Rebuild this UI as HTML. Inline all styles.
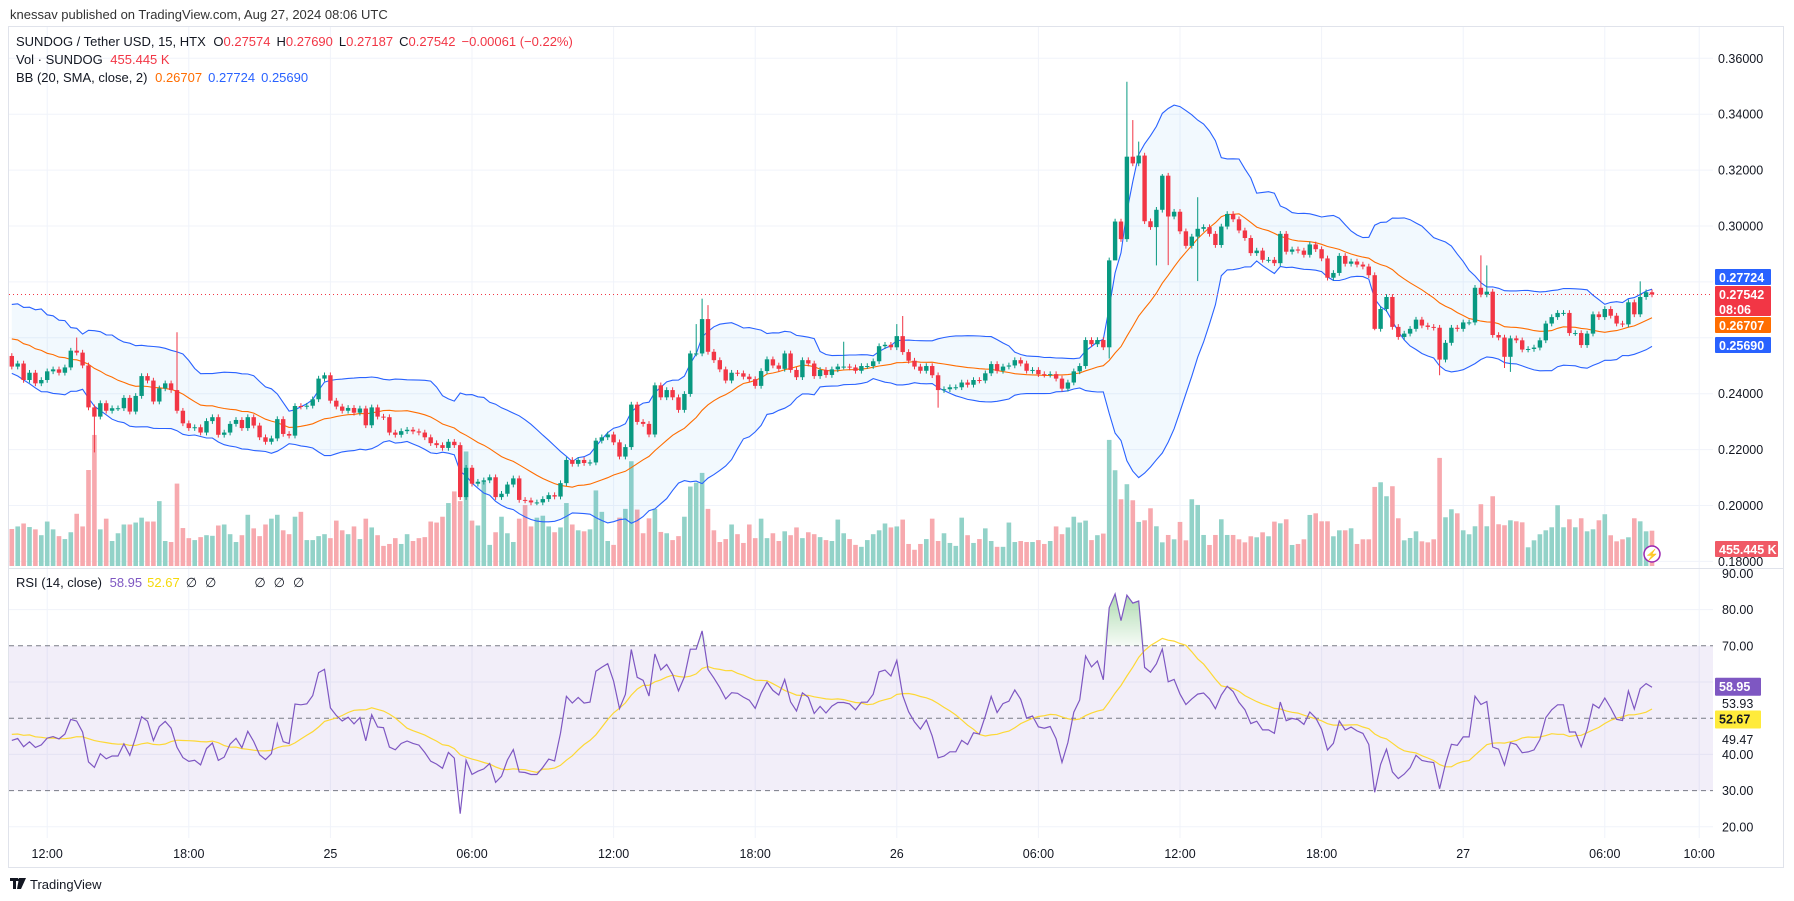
<!DOCTYPE html>
<html><head><meta charset="utf-8"><style>
html,body{margin:0;padding:0;background:#fff;}
svg{display:block;font-family:"Liberation Sans",Arial,sans-serif;}
</style></head><body>
<svg id="chart" width="1794" height="901" viewBox="0 0 1794 901" xmlns="http://www.w3.org/2000/svg">
<defs>
<clipPath id="pclip"><rect x="9" y="27" width="1704" height="540"/></clipPath>
<linearGradient id="obg" x1="0" y1="0" x2="0" y2="1"><stop offset="0" stop-color="#4caf50" stop-opacity="0.45"/><stop offset="1" stop-color="#4caf50" stop-opacity="0.05"/></linearGradient>
</defs>
<text x="10" y="19" font-size="13" fill="#333">knessav published on TradingView.com, Aug 27, 2024 08:06 UTC</text>
<rect x="8.5" y="26.5" width="1775" height="841" fill="none" stroke="#e0e3eb"/>
<g id="grid"></g>
<g id="rsiPane"></g>
<g id="pricePane" clip-path="url(#pclip)"></g>
<line x1="9" y1="568.5" x2="1783" y2="568.5" stroke="#e0e3eb"/>
<g id="axes"></g>
<g font-size="13">
<text x="16" y="46" fill="#131722">SUNDOG / Tether USD, 15, HTX <tspan dx="4">O</tspan><tspan fill="#f23645">0.27574</tspan><tspan dx="6">H</tspan><tspan fill="#f23645">0.27690</tspan><tspan dx="6">L</tspan><tspan fill="#f23645">0.27187</tspan><tspan dx="6">C</tspan><tspan fill="#f23645">0.27542</tspan><tspan dx="6" fill="#f23645">−0.00061 (−0.22%)</tspan></text>
<text x="16" y="64" fill="#131722">Vol · SUNDOG <tspan dx="4" fill="#f23645">455.445 K</tspan></text>
<text x="16" y="82" fill="#131722">BB (20, SMA, close, 2) <tspan dx="4" fill="#ff6d00">0.26707</tspan><tspan dx="6" fill="#2962ff">0.27724</tspan><tspan dx="6" fill="#2962ff">0.25690</tspan></text>
<text x="16" y="587" fill="#131722">RSI (14, close) <tspan dx="4" fill="#7e57c2">58.95</tspan><tspan dx="5" fill="#f5d90a">52.67</tspan><tspan dx="6">∅</tspan><tspan dx="8">∅</tspan><tspan dx="38">∅</tspan><tspan dx="8">∅</tspan><tspan dx="8">∅</tspan></text>
</g>
<g>
<rect x="10" y="878" width="8" height="3" fill="#131722"/><rect x="13" y="878" width="3" height="11" fill="#131722"/>
<polygon points="19,878 26,878 21,889 17,889" fill="#131722"/><circle cx="19.5" cy="880" r="1.6" fill="#131722"/>
<text x="30" y="889" font-size="13" fill="#131722">TradingView</text>
</g>
<g><circle cx="1652" cy="554" r="8" fill="#fff" stroke="#9c27b0" stroke-width="1.5"/><text x="1652" y="558.5" font-size="11" text-anchor="middle" fill="#9c27b0">⚡</text></g>
</svg>
<script>
// ---------- DATA ----------
const preCloses = [0.2700,0.2580,0.2720,0.2600,0.2680,0.2560,0.2690,0.2580,0.2650,0.2540,0.2680,0.2570,0.2640,0.2530,0.2620,0.2560,0.2600,0.2510,0.2580,0.2535];
const firstOpen = 0.2535;
const closesA = [0.2497,0.2508,0.2449,0.2475,0.2437,0.2449,0.2480,0.2487,0.2475,0.2494,
0.2554,0.2547,0.2501,0.2351,0.2318,0.2366,0.2339,0.2348,0.2348,0.2385,
0.2336,0.2392,0.2463,0.2447,0.2372,0.2419,0.2437,0.2413,0.2339,0.2294,
0.2277,0.2280,0.2261,0.2302,0.2316,0.2253,0.2261,0.2292,0.2306,0.2277,
0.2316,0.2286,0.2244,0.2228,0.2240,0.2309,0.2256,0.2250,0.2356,0.2354,
0.2357,0.2380,0.2454,0.2466,0.2375,0.2354,0.2339,0.2349,0.2332,0.2347,
0.2287,0.2351,0.2318,0.2316,0.2261,0.2253,0.2266,0.2271,0.2265,0.2261,
0.2244,0.2223,0.2216,0.2206,0.2228,0.2216,0.2030,0.2135,0.2078,0.2085,
0.2090,0.2101,0.2030,0.2042,0.2075,0.2097,0.2020,0.2018,0.2011,0.2011,
0.2023,0.2037,0.2032,0.2080,0.2163,0.2149,0.2163];
const closesB = [0.2152,0.2154,0.2232,0.2244,0.2254,0.2226,0.2175,0.2209,0.2361,0.2299,
0.2292,0.2254,0.2430,0.2387,0.2413,0.2387,0.2342,0.2399,0.2544,0.2544,
0.2667,0.2550,0.2520,0.2487,0.2447,0.2475,0.2473,0.2461,0.2452,0.2428,
0.2481,0.2523,0.2501,0.2489,0.2544,0.2485,0.2459,0.2520,0.2508,0.2463,
0.2485,0.2467,0.2487,0.2497,0.2497,0.2494,0.2482,0.2499,0.2499,0.2516,
0.2570,0.2575,0.2566,0.2606,0.2549,0.2518,0.2497,0.2482,0.2499,0.2466,
0.2413,0.2416,0.2423,0.2423,0.2440,0.2432,0.2449,0.2447,0.2473,0.2506,
0.2482,0.2497,0.2501,0.2520,0.2508,0.2482,0.2485,0.2470,0.2468,0.2470,
0.2454,0.2418,0.2440,0.2480,0.2499,0.2592,0.2577,0.2592,0.2566];
const closesC = [0.2877,0.3016,0.2953,0.3248,0.3224,0.3252,0.3017,0.2996,0.3058,0.3180,
0.3034,0.3051,0.2981,0.2929,0.2962,0.2990,0.2996,0.2972,0.2932,0.2998,
0.3043,0.3024,0.2984,0.2957,0.2903,0.2912,0.2879,0.2879,0.2867,0.2972,
0.2908,0.2916,0.2912,0.2897,0.2934,0.2917,0.2884,0.2815,0.2832,0.2893,
0.2865,0.2873,0.2862,0.2855,0.2824,0.2632,0.2703,0.2746,0.2639,0.2603,
0.2615,0.2632,0.2665,0.2644,0.2639,0.2636,0.2522,0.2582,0.2636,0.2632,
0.2655,0.2655,0.2779,0.2755,0.2765,0.2610,0.2601,0.2532,0.2598,0.2591,
0.2558,0.2560,0.2565,0.2591,0.2651,0.2674,0.2689,0.2689,0.2617,0.2617,
0.2574,0.2615,0.2684,0.2674,0.2703,0.2679,0.2651,0.2648,0.2727,0.2684,
0.2746,0.2763,0.2755];
const closes = closesA.concat(closesB, closesC);
const volumesK = [477,510,548,502,472,397,573,472,385,347,435,673,510,1237,1689,472,610,322,422,535,
535,560,623,573,573,836,322,309,1062,489,359,334,372,397,389,522,535,410,309,397,
660,485,385,535,610,660,460,410,635,698,334,334,385,410,359,585,460,410,510,347,
610,497,397,259,284,359,284,410,322,359,372,573,560,635,811,961,836,1476,585,522,
1087,272,435,635,422,309,610,786,510,623,648,510,435,497,811,535,460,
447,472,974,698,322,272,623,736,1350,727,422,614,736,439,422,334,385,635,1024,1074,
1200,736,460,309,347,535,410,297,535,359,610,359,422,322,447,397,497,359,435,410,
372,334,322,598,422,347,272,247,334,410,460,548,497,510,598,284,209,284,347,610,
322,422,297,259,623,397,297,347,485,322,247,247,560,309,322,309,309,334,284,322,
510,410,497,635,560,585,334,397,418,
1625,1234,860,1054,847,568,589,744,512,305,400,344,568,331,860,787,400,271,400,602,
400,400,344,305,383,370,434,383,572,550,602,271,284,344,658,679,576,576,383,460,
460,486,284,344,344,1019,1079,899,1028,615,331,361,447,318,305,344,1393,628,731,679,
460,409,512,796,512,899,538,525,589,576,563,241,331,409,460,499,783,499,602,499,
615,447,473,589,667,396,318,344,370,615,576,447,455];
const wickIdx  = [11,14,28,116,117,118,141,150,151,157,186,187,189,190,191,194,195,196,201,231,242,249,250,253,254,276];
const wickHigh = [0.2601,null,0.2620,0.2649,0.2740,0.2717,0.2586,0.2649,0.2678,null,null,null,0.3516,0.3379,0.3302,null,0.3186,null,0.3103,null,null,0.2895,0.2859,null,null,0.2802];
const wickLow  = [null,0.2190,null,null,null,null,null,null,null,0.2350,0.2526,0.2883,null,null,null,0.2859,null,0.2860,0.2803,0.2627,0.2466,null,null,0.2492,0.2478,null];
const timeLabels = ["12:00","18:00","25","06:00","12:00","18:00","26","06:00","12:00","18:00","27","06:00","10:00"];
const timeIdx = [6,30,54,78,102,126,150,174,198,222,246,270,286];
const priceTicks = [0.36,0.34,0.32,0.30,0.28,0.26,0.24,0.22,0.20,0.18];
const priceTickText = ["0.36000","0.34000","0.32000","0.30000","","","0.24000","0.22000","0.20000","0.18000"];
const rsiGrid = [80,60,40,20];
const rsiTicks = [90,80,70,40,30,20];

// ---------- SCALES ----------
const X0 = 11.8, DX = 5.9;
const px = i => X0 + i*DX;
const py = p => 58.3 + (0.36 - p)*2795;
const ry = v => 573.4 + (90 - v)*3.62;
const vy = k => 566 - k*0.0776;
const NS = "http://www.w3.org/2000/svg";
function mk(tag, attrs, parent){ const e=document.createElementNS(NS,tag); for(const k in attrs) e.setAttribute(k,attrs[k]); parent.appendChild(e); return e; }

// ---------- DERIVED ----------
const N = closes.length;
const opens = closes.map((c,i)=> i===0 ? firstOpen : closes[i-1]);
const highs = closes.map((c,i)=> Math.max(c,opens[i]) + 0.0010);
const lows  = closes.map((c,i)=> Math.min(c,opens[i]) - 0.0010);
wickIdx.forEach((idx,k)=>{ if(wickHigh[k]!==null) highs[idx]=wickHigh[k]; if(wickLow[k]!==null) lows[idx]=wickLow[k]; });
const all = preCloses.concat(closes);
const P = preCloses.length;
const bbMid=[], bbUp=[], bbLo=[];
for(let i=0;i<N;i++){ const j=i+P; const w=all.slice(j-19,j+1); const m=w.reduce((a,b)=>a+b,0)/w.length; const sd=Math.sqrt(w.reduce((a,b)=>a+(b-m)*(b-m),0)/w.length); bbMid.push(m); bbUp.push(m+2*sd); bbLo.push(m-2*sd); }
const rsiAll=[]; let ag=0, al=0;
for(let j=1;j<all.length;j++){ const d=all[j]-all[j-1]; const g=Math.max(d,0), l=Math.max(-d,0);
  if(j<=14){ ag+=g/14; al+=l/14; } else { ag=(ag*13+g)/14; al=(al*13+l)/14; }
  rsiAll[j] = al===0?100:100-100/(1+ag/al); }
const rsi = closes.map((c,i)=> rsiAll[i+P]);
const rsiMa = rsi.map((v,i)=>{ const j=i+P; const w=rsiAll.slice(Math.max(1,j-13),j+1); return w.reduce((a,b)=>a+b,0)/w.length; });

// ---------- GRID ----------
const grid = document.getElementById('grid');
timeIdx.forEach((t,k)=>{ const l=mk('line',{x1:px(t),x2:px(t),y1:27,y2:838,stroke:'#f0f3fa'},grid);
  
   });
priceTicks.forEach(p=>{ const l=mk('line',{x1:9,x2:1713,y1:py(p),y2:py(p),stroke:'#f0f3fa'},grid);
  
   });
rsiGrid.forEach(v=>{ const l=mk('line',{x1:9,x2:1713,y1:ry(v),y2:ry(v),stroke:'#f0f3fa'},grid);
  
   });

// ---------- RSI PANE ----------
const rp = document.getElementById('rsiPane');
const band = mk('rect',{x:9,y:ry(70),width:1704,height:ry(30)-ry(70),fill:'rgba(126,87,194,0.1)'},rp);


[70,50,30].forEach(v=>{ const l=mk('line',{x1:9,x2:1713,y1:ry(v),y2:ry(v),stroke:'#787b86','stroke-dasharray':'5,4'},rp);
  
   });
let ob = 'M'+px(0)+','+ry(70);
rsi.forEach((v,i)=>{ ob += ' L'+px(i).toFixed(1)+','+Math.min(ry(v),ry(70)).toFixed(1); });
ob += ' L'+px(N-1)+','+ry(70)+' Z';
const obf = mk('path',{d:ob,fill:'url(#obg)'},rp);


const maLine = mk('polyline',{points:rsiMa.map((v,i)=>px(i).toFixed(1)+','+ry(v).toFixed(1)).join(' '),fill:'none',stroke:'#fdd835','stroke-width':1.2},rp);


const rLine = mk('polyline',{points:rsi.map((v,i)=>px(i).toFixed(1)+','+ry(v).toFixed(1)).join(' '),fill:'none',stroke:'#7e57c2','stroke-width':1.2},rp);



// ---------- PRICE PANE ----------
const pp = document.getElementById('pricePane');
for(let i=0;i<N;i++){ const up=closes[i]>=opens[i]; const vb=mk('rect',{x:px(i)-2.3,y:vy(volumesK[i]),width:4.6,height:566-vy(volumesK[i]),fill:up?'#92d2c8':'#f7a9ae'},pp);
  
   }
let bbp = 'M'+bbUp.map((v,i)=>px(i).toFixed(1)+','+py(v).toFixed(1)).join(' L');
for(let i=N-1;i>=0;i--) bbp += ' L'+px(i).toFixed(1)+','+py(bbLo[i]).toFixed(1);
bbp += ' Z';
const bbf = mk('path',{d:bbp,fill:'rgba(33,150,243,0.06)'},pp);


const bu = mk('polyline',{points:bbUp.map((v,i)=>px(i).toFixed(1)+','+py(v).toFixed(1)).join(' '),fill:'none',stroke:'#2962ff','stroke-width':1.1},pp);


const bl = mk('polyline',{points:bbLo.map((v,i)=>px(i).toFixed(1)+','+py(v).toFixed(1)).join(' '),fill:'none',stroke:'#2962ff','stroke-width':1.1},pp);


const bm = mk('polyline',{points:bbMid.map((v,i)=>px(i).toFixed(1)+','+py(v).toFixed(1)).join(' '),fill:'none',stroke:'#ff6d00','stroke-width':1.1},pp);


const lastLine = mk('line',{x1:9,x2:1713,y1:py(closes[N-1]),y2:py(closes[N-1]),stroke:'#f23645','stroke-dasharray':'1,3'},pp);


for(let i=0;i<N;i++){ const up=closes[i]>=opens[i]; const col=up?'#089981':'#f23645';
  const g=mk('g',{},pp);
  
  
  mk('line',{x1:px(i),x2:px(i),y1:py(highs[i]),y2:py(lows[i]),stroke:col,'stroke-width':1},g);
  const t=py(Math.max(opens[i],closes[i])), b=py(Math.min(opens[i],closes[i]));
  mk('rect',{x:px(i)-2.2,y:t,width:4.4,height:Math.max(1,b-t),fill:col},g); }

// ---------- AXES ----------
const ax = document.getElementById('axes');
priceTicks.forEach((p,k)=>{ if(!priceTickText[k]) return; const t=mk('text',{x:1718,y:py(p)+4.5,'font-size':12.5,fill:'#131722'},ax); t.textContent=priceTickText[k];
  
   });
rsiTicks.forEach(v=>{ const t=mk('text',{x:1722,y:ry(v)+4.5,'font-size':12.5,fill:'#131722'},ax); t.textContent=v.toFixed(2);
  
   });
[['53.93',703.5],['49.47',739.5]].forEach(a=>{ const t=mk('text',{x:1722,y:a[1]+4.5,'font-size':12.5,fill:'#131722'},ax); t.textContent=a[0];
  
   });
timeIdx.forEach((ti,k)=>{ const t=mk('text',{x:px(ti),y:858,'font-size':12.5,fill:'#131722','text-anchor':'middle'},ax); t.textContent=timeLabels[k];
  
   });
function badge(y,h,bg,fg,lines,name,w){ const g=mk('g',{},ax);
  
  
  mk('rect',{x:1715,y:y,width:w||56,height:h,fill:bg,rx:1},g);
  lines.forEach((s,k)=>{ const t=mk('text',{x:1719,y:y+13+k*15,'font-size':12.5,'font-weight':'bold',fill:fg},g); t.textContent=s; }); }
badge(269,16,'#2962ff','#fff',['0.27724'],'bb-upper-label');
badge(286,30,'#f23645','#fff',['0.27542','08:06'],'last-price-label');
badge(317,16,'#ff6d00','#fff',['0.26707'],'bb-basis-label');
badge(337,16,'#2962ff','#fff',['0.25690'],'bb-lower-label');
badge(541,16,'#f05a66','#fff',['455.445 K'],'volume-label',63);
badge(ry(58.95)-8,18,'#7e57c2','#fff',['58.95'],'rsi-value-label',46);
badge(ry(52.67)+2,18,'#ffeb3b','#131722',['52.67'],'rsi-ma-label',46);
</script>
</body></html>
